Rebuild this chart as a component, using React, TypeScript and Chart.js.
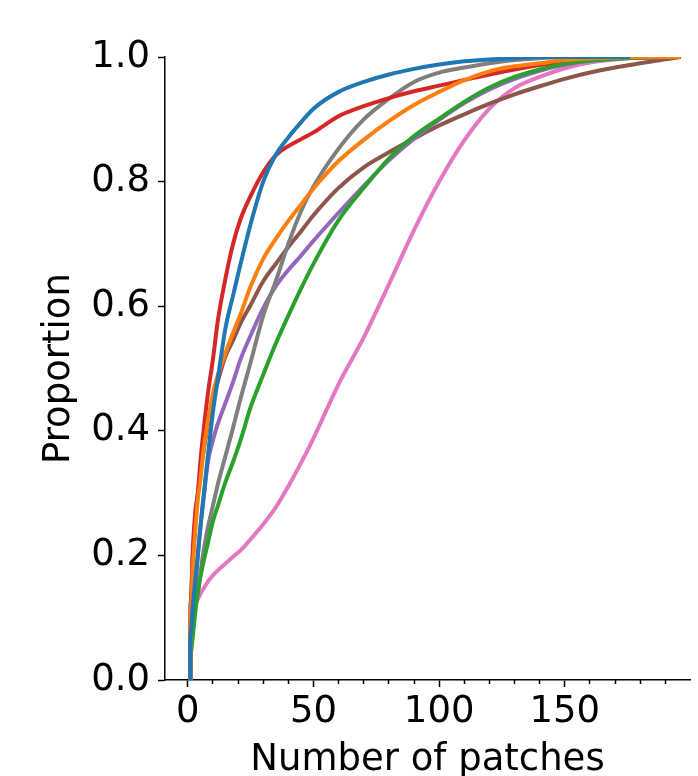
import React, { useEffect, useRef } from 'react';
import { Chart, registerables } from 'chart.js';

Chart.register(...registerables);

// x positions (number of patches) at which the ECDF curves were read
const XS = [1, 2, 3, 4, 5, 6, 8, 10, 12, 15, 18, 21, 25, 30, 35, 40, 45, 50, 60, 70, 80, 90, 100, 110, 120, 130, 140, 150, 160, 170, 180, 196];

const BLUE = [0.07, 0.12, 0.16, 0.2, 0.245, 0.285, 0.36, 0.43, 0.485, 0.565, 0.617, 0.668, 0.732, 0.8, 0.843, 0.871, 0.895, 0.917, 0.944, 0.96, 0.972, 0.981, 0.988, 0.993, 0.996, 0.998, 1.0, 1.0, 1.0, 1.0, 1.0, 1.0];
const ORANGE = [0.1, 0.18, 0.24, 0.29, 0.32, 0.36, 0.415, 0.46, 0.49, 0.525, 0.557, 0.587, 0.632, 0.676, 0.708, 0.737, 0.763, 0.789, 0.833, 0.867, 0.897, 0.923, 0.944, 0.963, 0.977, 0.985, 0.99, 0.995, 0.998, 0.999, 1.0, 1.0];
const GREEN = [0.04, 0.07, 0.11, 0.14, 0.165, 0.185, 0.22, 0.255, 0.28, 0.318, 0.35, 0.385, 0.438, 0.49, 0.54, 0.585, 0.628, 0.668, 0.738, 0.79, 0.837, 0.873, 0.901, 0.928, 0.951, 0.968, 0.98, 0.989, 0.994, 0.997, 0.999, 1.0];
const RED = [0.1, 0.21, 0.27, 0.3, 0.35, 0.39, 0.46, 0.515, 0.578, 0.645, 0.7, 0.74, 0.777, 0.815, 0.842, 0.857, 0.868, 0.879, 0.905, 0.921, 0.934, 0.945, 0.954, 0.963, 0.972, 0.98, 0.987, 0.992, 0.996, 0.998, 0.999, 1.0];
const PURPLE = [0.05, 0.1, 0.15, 0.2, 0.245, 0.28, 0.35, 0.385, 0.412, 0.445, 0.478, 0.515, 0.553, 0.597, 0.632, 0.658, 0.681, 0.705, 0.75, 0.793, 0.834, 0.869, 0.899, 0.926, 0.948, 0.965, 0.978, 0.988, 0.994, 0.997, 0.999, 1.0];
const BROWN = [0.12, 0.2, 0.26, 0.3, 0.33, 0.36, 0.41, 0.45, 0.48, 0.52, 0.545, 0.573, 0.602, 0.64, 0.668, 0.695, 0.72, 0.746, 0.79, 0.823, 0.847, 0.869, 0.89, 0.908, 0.925, 0.94, 0.953, 0.965, 0.975, 0.983, 0.99, 1.0];
const PINK = [0.05, 0.1, 0.12, 0.13, 0.138, 0.145, 0.158, 0.168, 0.176, 0.187, 0.198, 0.208, 0.226, 0.25, 0.277, 0.311, 0.348, 0.388, 0.475, 0.55, 0.635, 0.722, 0.8, 0.866, 0.917, 0.95, 0.968, 0.982, 0.991, 0.996, 0.999, 1.0];
const GRAY = [0.05, 0.09, 0.12, 0.14, 0.17, 0.2, 0.245, 0.28, 0.315, 0.36, 0.405, 0.452, 0.51, 0.585, 0.64, 0.7, 0.752, 0.792, 0.853, 0.9, 0.933, 0.96, 0.975, 0.983, 0.99, 0.995, 0.998, 1.0, 1.0, 1.0, 1.0, 1.0];

// largest observed value for each series (where the curve reaches 1)
const END_X = { blue: 176, orange: 196, green: 196, red: 196, purple: 196, brown: 196, pink: 196, gray: 196 };

const X_MIN = -9.07;
const X_MAX = 199.8;
const X_MAJOR_TICKS = [0, 50, 100, 150];
const X_MINOR_TICKS = [10, 20, 30, 40, 60, 70, 80, 90, 110, 120, 130, 140, 160, 170, 180, 190];
const Y_TICKS = [0, 0.2, 0.4, 0.6, 0.8, 1.0];

const FONT = 'DejaVu Sans';

export default function App() {
  const ref = useRef<HTMLCanvasElement>(null);

  useEffect(() => {
    const series = [
      { color: '#1f77b4', values: BLUE, end: END_X.blue },
      { color: '#ff7f0e', values: ORANGE, end: END_X.orange },
      { color: '#2ca02c', values: GREEN, end: END_X.green },
      { color: '#d62728', values: RED, end: END_X.red },
      { color: '#7f7f7f', values: GRAY, end: END_X.gray },
      { color: '#9467bd', values: PURPLE, end: END_X.purple },
      { color: '#8c564b', values: BROWN, end: END_X.brown },
      { color: '#e377c2', values: PINK, end: END_X.pink },
    ];
    const datasets = series.map((s) => {
      const pts: { x: number; y: number }[] = [{ x: XS[0], y: 0 }];
      XS.forEach((x, i) => {
        if (x <= s.end) pts.push({ x, y: s.values[i] });
      });
      if (pts[pts.length - 1].x < s.end) pts.push({ x: s.end, y: 1 });
      return {
        data: pts,
        borderColor: s.color,
        backgroundColor: s.color,
        borderWidth: 4,
        pointRadius: 0,
        cubicInterpolationMode: 'monotone',
        fill: false,
      };
    });

    const tickFont = { family: FONT, size: 37 };
    const chart = new Chart(ref.current!, {
      type: 'line',
      data: { datasets },
      options: {
        responsive: false,
        devicePixelRatio: 1,
        animation: false,
        layout: { padding: { left: 0, right: 8, top: 57, bottom: 0 } },
        plugins: { legend: { display: false }, tooltip: { enabled: false } },
        scales: {
          x: {
            type: 'linear',
            position: 'bottom',
            weight: 1,
            min: X_MIN,
            max: X_MAX,
            afterBuildTicks: (axis: any) => {
              axis.ticks = X_MAJOR_TICKS.map((v) => ({ value: v }));
            },
            afterFit: (axis: any) => {
              axis.height = 96;
            },
            ticks: {
              font: tickFont,
              color: '#000',
              padding: 3,
              maxRotation: 0,
              autoSkip: false,
              callback: (v: any) => String(v),
            },
            grid: { drawOnChartArea: false, drawTicks: true, tickLength: 7, tickWidth: 1.5, tickColor: '#000' },
            border: { display: true, color: '#000', width: 1.5 },
            title: {
              display: true,
              text: 'Number of patches',
              font: tickFont,
              color: '#000',
              padding: { top: 0, bottom: -7 },
            },
          },
          xMinor: {
            type: 'linear',
            position: 'bottom',
            weight: 0,
            min: X_MIN,
            max: X_MAX,
            afterBuildTicks: (axis: any) => {
              axis.ticks = X_MINOR_TICKS.map((v) => ({ value: v }));
            },
            afterFit: (axis: any) => {
              axis.height = 0;
            },
            ticks: { display: false },
            grid: { drawOnChartArea: false, drawTicks: true, tickLength: 4, tickWidth: 1.5, tickColor: '#000' },
            border: { display: false },
          },
          y: {
            type: 'linear',
            min: 0,
            max: 1,
            afterBuildTicks: (axis: any) => {
              axis.ticks = Y_TICKS.map((v) => ({ value: v }));
            },
            afterFit: (axis: any) => {
              axis.width = 165;
            },
            ticks: {
              font: tickFont,
              color: '#000',
              padding: 8,
              callback: (v: any) => Number(v).toFixed(1),
            },
            grid: { drawOnChartArea: false, drawTicks: true, tickLength: 7, tickWidth: 1.5, tickColor: '#000' },
            border: { display: true, color: '#000', width: 1.5 },
            title: {
              display: true,
              text: 'Proportion',
              font: tickFont,
              color: '#000',
              padding: { top: 37, bottom: 0 },
            },
          },
        },
      } as any,
    });
    return () => chart.destroy();
  }, []);

  return (
    <div style={{ position: 'fixed', left: 0, top: 0, width: 698, height: 776, background: '#fff' }}>
      <canvas ref={ref} width={698} height={776} style={{ display: 'block' }} />
    </div>
  );
}
